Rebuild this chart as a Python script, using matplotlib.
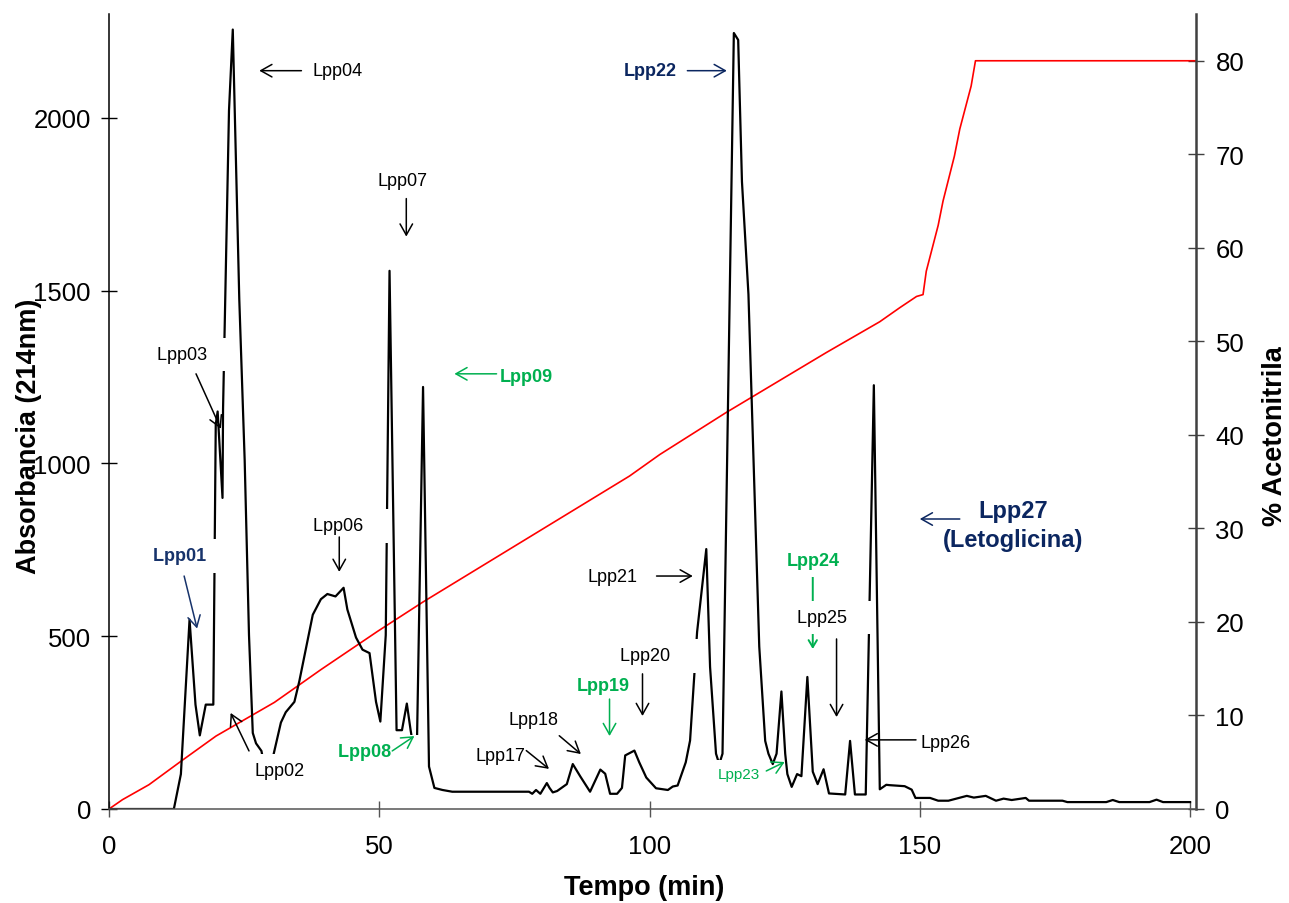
import matplotlib
matplotlib.use("Agg")
import matplotlib.pyplot as plt

plt.rcParams["font.family"] = ["Liberation Sans", "DejaVu Sans"]

# Chromatogram (absorbance at 214 nm)
time_min = [0, 12.0, 13.3, 14.9, 16.0, 16.8, 17.9, 19.3, 19.75, 20.1, 21.0, 21.1,
            22.2, 22.9, 24.1, 25.1, 25.9, 26.6, 27.2, 28.2, 29.3, 30.6, 31.8, 32.7,
            34.3, 35.2, 37.7, 39.2, 40.4, 41.9, 43.4, 44.1, 45.7, 46.9, 48.2, 49.4,
            50.2, 51.2, 51.9, 53.2, 54.2, 55.1, 55.8, 56.9, 58.1, 59.2, 60.2,
            61.7, 63.5, 77.7, 78.3, 79.0, 79.8, 81.0, 81.5, 82.1, 82.9, 84.7, 85.8,
            87.2, 89.0, 90.9, 91.8, 92.7, 94.0, 94.9, 95.5, 97.2, 98.1, 99.4, 101.2,
            103.4, 104.3, 105.2, 106.7, 107.5, 108.8, 110.5, 111.2, 112.3, 112.9, 113.5,
            115.6, 116.4, 117.1, 118.3, 120.3, 121.4, 122.0, 122.8, 123.5, 124.4, 125.1,
            125.5, 126.3, 127.3, 128.1, 129.2, 130.2, 131.1, 132.2, 133.2, 136.2, 137.1,
            138.0, 140.0, 141.5, 142.6, 143.8, 144.4, 147.2, 148.5, 149.2, 151.9, 153.4,
            155.3, 157.2, 158.7, 160.0, 162.2, 164.1, 165.5, 167.0, 169.6, 170.2, 176.4,
            177.3, 184.5, 185.7, 186.9, 192.5, 193.8, 195.0, 200.0]
absorb = [0, 0, 101, 548, 302, 213, 302, 302, 1113, 1150, 900, 1158,
          2021, 2255, 1476, 1009, 503, 220, 190, 168, 80, 168, 250, 280,
          310, 369, 562, 607, 622, 615, 640, 577, 496, 461, 451, 310,
          253, 503, 1557, 228, 228, 305, 228, 123, 1221, 123, 61,
          55, 50, 50, 44, 55, 44, 75, 61, 48, 52, 72, 130,
          94, 50, 114, 102, 44, 44, 61, 155, 169, 135, 91, 60,
          55, 65, 68, 135, 198, 512, 752, 411, 160, 130, 160,
          2245, 2225, 1815, 1489, 470, 197, 160, 130, 160, 340, 160,
          101, 64, 101, 95, 382, 108, 72, 115, 45, 42, 197,
          42, 42, 1226, 57, 70, 69, 66, 56, 32, 32, 24,
          24, 32, 38, 33, 38, 24, 30, 26, 32, 24, 24,
          20, 20, 26, 20, 20, 27, 20, 20]

# Acetonitrile gradient (%)
grad_time = [0, 2.5, 7.4, 13.3, 19.8, 30.6, 39.2, 49.7, 58.0, 96.3, 101.9, 114.2,
             132.7, 142.6, 146.3, 149.4, 150.6, 151.2, 153.4, 154.3, 156.4, 157.4,
             159.5, 160.3, 201.0]
acn = [0, 1.0, 2.6, 5.1, 7.8, 11.4, 14.9, 19.0, 22.1, 35.6, 37.9, 42.4,
       48.8, 52.1, 53.6, 54.8, 55.0, 57.5, 62.4, 65.0, 69.8, 72.7,
       77.3, 80.0, 80.0]

NAVY = "#17336B"
NAVY2 = "#0B2660"
GREEN = "#00B050"

# peak labels: text, x, y, ha, colour, weight, size
labels = [
    ("Lpp01  ", 8.1, 732, "left", NAVY, "bold", 13),
    ("Lpp02", 31.5, 110, "center", "black", "normal", 13),
    ("Lpp03   ", 8.9, 1314, "left", "black", "normal", 13),
    ("Lpp04", 37.6, 2136, "left", "black", "normal", 13),
    ("Lpp06    ", 37.7, 819, "left", "black", "normal", 13),
    ("Lpp07", 54.3, 1818, "center", "black", "normal", 13),
    ("Lpp08    ", 42.4, 165, "left", GREEN, "bold", 13),
    ("Lpp09", 72.2, 1250, "left", GREEN, "bold", 13),
    ("Lpp17", 67.8, 154, "left", "black", "normal", 13),
    ("Lpp18", 78.5, 258, "center", "black", "normal", 13),
    ("Lpp19", 91.4, 356, "center", GREEN, "bold", 13),
    ("Lpp20    ", 94.6, 443, "left", "black", "normal", 13),
    ("Lpp21", 88.5, 674, "left", "black", "normal", 13),
    ("Lpp22", 105.0, 2136, "right", NAVY2, "bold", 13),
    ("Lpp23", 112.6, 101, "left", GREEN, "normal", 11),
    ("Lpp24", 130.2, 718, "center", GREEN, "bold", 13),
    ("Lpp25    ", 127.2, 553, "left", "black", "normal", 13),
    ("Lpp26", 150.2, 191, "left", "black", "normal", 13),
    ("Lpp27\n(Letoglicina)", 167.2, 822, "center", NAVY2, "bold", 17),
]

# arrows: start x, start y, end x, end y, colour
arrows = [
    (13.9, 674, 16.3, 522, NAVY),
    (25.9, 168, 22.5, 278, "black"),
    (16.1, 1259, 20.7, 1100, "black"),
    (35.6, 2136, 27.8, 2136, "black"),
    (42.6, 787, 42.6, 686, "black"),
    (55.0, 1766, 55.0, 1656, "black"),
    (52.4, 168, 56.5, 211, GREEN),
    (71.7, 1259, 63.9, 1259, GREEN),
    (77.2, 169, 81.4, 116, "black"),
    (83.3, 212, 87.3, 159, "black"),
    (92.6, 318, 92.6, 211, GREEN),
    (98.7, 391, 98.7, 269, "black"),
    (101.3, 674, 108.0, 674, "black"),
    (107.0, 2136, 114.3, 2136, NAVY2),
    (121.6, 110, 125.0, 136, GREEN),
    (134.6, 492, 134.6, 266, "black"),
    (149.3, 200, 139.8, 200, "black"),
    (157.4, 839, 150.0, 839, NAVY2),
]

fig = plt.figure(figsize=(12.89, 9.04), dpi=100)
ax = fig.add_axes([109 / 1289, 94 / 904, 1087 / 1289, 795 / 904])
ax2 = ax.twinx()

# gradient on the secondary axis, chromatogram on top
ax2.plot(grad_time, acn, color="#FF0000", lw=1.2)
ax.plot(time_min, absorb, color="black", lw=1.6, zorder=2)
ax.set_zorder(ax2.get_zorder() + 1)
ax.patch.set_visible(False)

ax.set_xlim(0, 201.1)
ax.set_ylim(0, 2300)
ax2.set_ylim(0, 85)
ax.set_xticks([0, 50, 100, 150, 200])
ax.set_yticks([0, 500, 1000, 1500, 2000])
ax2.set_yticks(range(0, 81, 10))

for s in ["top", "right"]:
    ax.spines[s].set_visible(False)
for s in ["top", "left", "bottom"]:
    ax2.spines[s].set_visible(False)
ax.spines["left"].set_color("black")
ax.spines["left"].set_linewidth(1.1)
ax.spines["bottom"].set_color("#555555")
ax.spines["bottom"].set_linewidth(1.1)
ax2.spines["right"].set_color("#404040")
ax2.spines["right"].set_linewidth(1.8)

ax.tick_params(axis="y", direction="inout", length=12, width=1, labelsize=18.5, pad=7)
ax.tick_params(axis="x", direction="inout", length=12, width=1, color="#555555",
               labelsize=18.5, pad=12)
ax2.tick_params(axis="y", direction="inout", length=12, width=1, color="#404040",
                labelsize=18.5, pad=8)

ax.set_xlabel("Tempo (min)", fontsize=19.5, fontweight="bold")
ax.xaxis.set_label_coords(0.4925, -0.082)
ax.set_ylabel("Absorbancia (214nm)", fontsize=19.5, fontweight="bold")
ax.yaxis.set_label_coords(-0.062, 0.47)
ax2.set_ylabel("% Acetonitrila", fontsize=19.5, fontweight="bold")
ax2.yaxis.set_label_coords(1.0605, 0.47)

# Lpp24 arrow sits under the Lpp25 box (as in the original)
ax.annotate("", xy=(130.2, 463), xytext=(130.2, 671),
            arrowprops=dict(arrowstyle="->,head_length=0.5,head_width=0.3",
                            color=GREEN, lw=1.4, shrinkA=0, shrinkB=0), zorder=3)

for txt, x, y, ha, c, w, sz in labels:
    ax.text(x, y, txt, ha=ha, va="center", color=c, fontweight=w, fontsize=sz,
            linespacing=1.3, zorder=4,
            bbox=dict(boxstyle="square,pad=0.45", fc="white", ec="none"))

for x0, y0, x1, y1, c in arrows:
    ax.annotate("", xy=(x1, y1), xytext=(x0, y0), zorder=5,
                arrowprops=dict(arrowstyle="->,head_length=0.8,head_width=0.45",
                                color=c, lw=1.1, shrinkA=0, shrinkB=0))

fig.savefig("out.png", dpi=100, facecolor="white")
